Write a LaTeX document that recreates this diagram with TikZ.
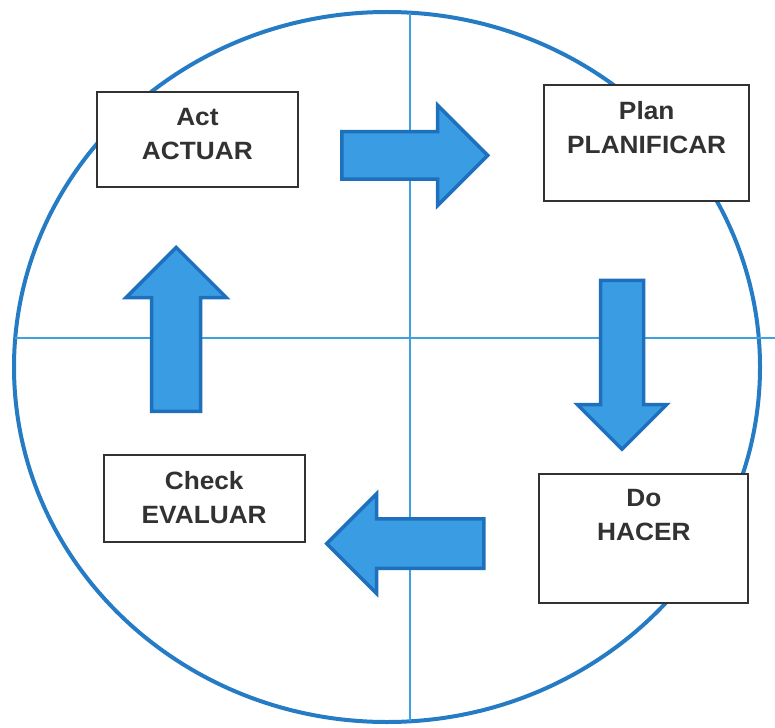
\documentclass[tikz,border=0pt]{standalone}
\usepackage{fontspec}
\usepackage{tikz}
\usetikzlibrary{shapes.arrows}

\newfontfamily\pdcafont{Liberation Sans}[FakeStretch=1.05]
\newcommand\lift[1]{\rule[-#1pt]{0pt}{#1pt}}

\definecolor{ringblue}{RGB}{38,124,196}
\definecolor{crossblue}{RGB}{62,160,222}
\definecolor{arrowfill}{RGB}{58,157,227}
\definecolor{arrowline}{RGB}{30,112,188}
\definecolor{boxgray}{RGB}{50,50,50}

\begin{document}
\begin{tikzpicture}[x=1pt,y=-1pt,
    ring/.style={draw=ringblue,line width=4pt},
    crossline/.style={draw=crossblue,line width=1.8pt},
    stage/.style={draw=boxgray,line width=2pt,fill=white,text=boxgray,
        align=center,inner sep=2pt,
        font=\pdcafont\bfseries\fontsize{25}{34}\selectfont},
    blockarrow/.style={single arrow,draw=arrowline,fill=arrowfill,
        line width=3.5pt,inner xsep=0pt,single arrow head indent=0pt,
        anchor=tail}
]
\useasboundingbox (0,0) rectangle (775,727);

\draw[ring] (387,367) ellipse [x radius=373,y radius=355];

\coordinate (west) at (15.2,338.3);
\coordinate (east) at (775,338.3);
\coordinate (north) at (410,12.7);
\coordinate (south) at (410,721.3);
\draw[crossline] (west) -- (east);
\draw[crossline] (north) -- (south);

\node[stage,minimum width=201,minimum height=95] (act) at (197.4,139.5)
    {Act\\ACTUAR\lift{11}};
\node[stage,minimum width=205,minimum height=116] (plan) at (646.7,143.5)
    {Plan\\PLANIFICAR\lift{32}};
\node[stage,minimum width=209,minimum height=129] (do) at (643.8,538.7)
    {Do\\HACER\lift{47}};
\node[stage,minimum width=201,minimum height=87] (check) at (204.2,498)
    {Check\\EVALUAR};

\node[blockarrow,minimum height=146,inner ysep=22,
    single arrow head extend=26.5] (toplan) at (340,155.4) {};
\node[blockarrow,rotate=270,minimum height=169,inner ysep=19.75,
    single arrow head extend=23.25] (todo) at (622,278.5) {};
\node[blockarrow,rotate=180,minimum height=157,inner ysep=23,
    single arrow head extend=25] (tocheck) at (485.5,543.6) {};
\node[blockarrow,rotate=90,minimum height=164,inner ysep=22.75,
    single arrow head extend=25.75] (toact) at (176.2,413.2) {};
\end{tikzpicture}
\end{document}
